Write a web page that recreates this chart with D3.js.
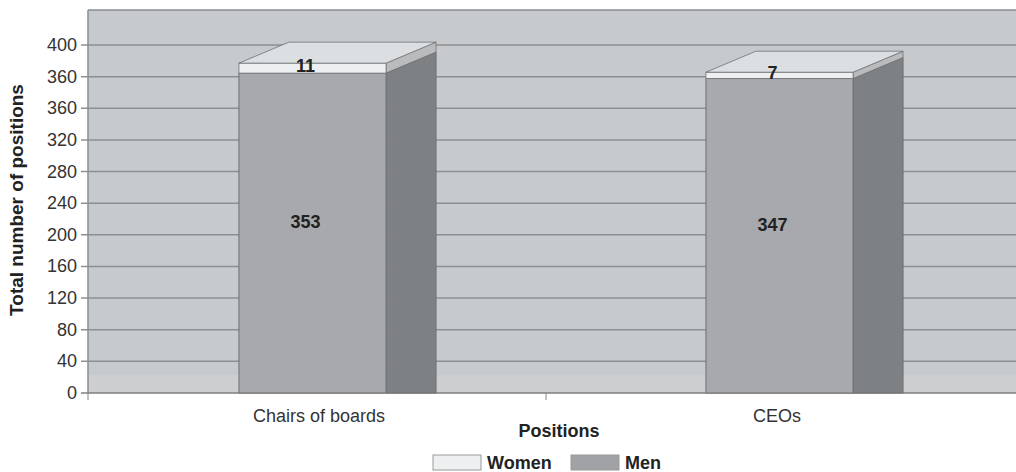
<!DOCTYPE html>
<html>
<head>
<meta charset="utf-8">
<script src="https://cdn.jsdelivr.net/npm/d3@7"></script>
<style>
  html, body { margin: 0; padding: 0; background: #fff; }
  svg { display: block; }
  text { font-family: "Liberation Sans", Arial, sans-serif; }
</style>
</head>
<body>
<svg id="chart" width="1016" height="472"></svg>
<script>
// ---- data ----
const categories = ["Chairs of boards", "CEOs"];
const menValues = [353, 347];
const womenValues = [11, 7];
const tickLabels = ["0", "40", "80", "120", "160", "200", "240", "280", "320", "360", "360", "400"];
const seriesNames = ["Women", "Men"];
const xTitle = "Positions";
const yTitle = "Total number of positions";

// ---- layout ----
const W = 1016, H = 472;
const plotLeft = 88, plotTop = 10, plotRight = 1016, baseY = 393, topTickY = 45;
const depthX = 50, depthY = 21;
const yMax = 384;

const svg = d3.select("#chart");

const y = d3.scaleLinear().domain([0, yMax]).range([baseY, topTickY]);
const tickStep = yMax / (tickLabels.length - 1);

const xAxisScale = d3.scaleBand().domain(categories).range([plotLeft, 1004]).padding(0);
const xBar = d3.scaleBand().domain(categories).range([79, 1013])
  .paddingInner(0.685).paddingOuter(0.3425);

const colors = {
  bg: "#c7cacd",
  floor: "#cdcecf",
  grid: "#8c8f92",
  menFront: "#a7a9ac",
  menSide: "#7e8184",
  womenFront: "#eeeff0",
  womenTop: "#dcdfe1",
  womenSide: "#b9bbbd",
  edge: "#6f7275"
};

// plot background
svg.append("rect")
  .attr("x", plotLeft).attr("y", plotTop)
  .attr("width", plotRight - plotLeft).attr("height", baseY - plotTop)
  .attr("fill", colors.bg);
// floor band
svg.append("rect")
  .attr("x", plotLeft).attr("y", baseY - depthY + 3)
  .attr("width", plotRight - plotLeft).attr("height", depthY - 3)
  .attr("fill", colors.floor);
// plot border top and left
svg.append("line").attr("x1", plotLeft).attr("x2", plotRight)
  .attr("y1", plotTop).attr("y2", plotTop)
  .attr("stroke", "#8a8d90").attr("stroke-width", 1.5);
svg.append("line").attr("x1", plotLeft).attr("x2", plotLeft)
  .attr("y1", plotTop).attr("y2", baseY)
  .attr("stroke", "#8a8d90").attr("stroke-width", 1.5);

// gridlines, ticks, labels
const ticks = svg.append("g");
tickLabels.forEach((lab, i) => {
  const ty = y(i * tickStep);
  ticks.append("line")
    .attr("x1", plotLeft - 7).attr("x2", plotRight)
    .attr("y1", ty).attr("y2", ty)
    .attr("stroke", i === 0 ? "#7d8083" : colors.grid)
    .attr("stroke-width", 1.5);
  ticks.append("text")
    .attr("x", 77).attr("y", ty)
    .attr("text-anchor", "end")
    .attr("dominant-baseline", "central")
    .attr("font-size", 18)
    .attr("fill", "#333")
    .text(lab);
});

// x axis tick marks at band boundaries
const bounds = [xAxisScale.range()[0]].concat(categories.slice(1).map(c => xAxisScale(c)));
bounds.forEach(bx => {
  svg.append("line").attr("x1", bx).attr("x2", bx)
    .attr("y1", baseY).attr("y2", baseY + 7)
    .attr("stroke", "#888").attr("stroke-width", 1);
});

// bars
const bars = svg.append("g");
categories.forEach((cat, i) => {
  const x0 = xBar(cat), x1 = x0 + xBar.bandwidth();
  const yMen = y(menValues[i]);
  const yTot = y(menValues[i] + womenValues[i]);
  const poly = pts => pts.map(p => p.join(",")).join(" ");

  // men side
  bars.append("polygon")
    .attr("points", poly([[x1, yMen], [x1 + depthX, yMen - depthY], [x1 + depthX, baseY], [x1, baseY]]))
    .attr("fill", colors.menSide).attr("stroke", colors.edge).attr("stroke-width", 1);
  // men front
  bars.append("rect")
    .attr("x", x0).attr("y", yMen).attr("width", x1 - x0).attr("height", baseY - yMen)
    .attr("fill", colors.menFront).attr("stroke", colors.edge).attr("stroke-width", 1);
  // women side
  bars.append("polygon")
    .attr("points", poly([[x1, yTot], [x1 + depthX, yTot - depthY], [x1 + depthX, yMen - depthY], [x1, yMen]]))
    .attr("fill", colors.womenSide).attr("stroke", colors.edge).attr("stroke-width", 0.8);
  // women front
  bars.append("rect")
    .attr("x", x0).attr("y", yTot).attr("width", x1 - x0).attr("height", yMen - yTot)
    .attr("fill", colors.womenFront).attr("stroke", colors.edge).attr("stroke-width", 0.8);
  // women top
  bars.append("polygon")
    .attr("points", poly([[x0, yTot], [x0 + depthX, yTot - depthY], [x1 + depthX, yTot - depthY], [x1, yTot]]))
    .attr("fill", colors.womenTop).attr("stroke", colors.edge).attr("stroke-width", 0.8);

  const cx = (x0 + x1) / 2 - 7;
  // women label
  bars.append("text")
    .attr("x", cx).attr("y", (yTot + yMen) / 2 - 2)
    .attr("text-anchor", "middle").attr("dominant-baseline", "central")
    .attr("font-size", 18).attr("font-weight", "bold").attr("fill", "#222")
    .text(womenValues[i]);
  // men label
  bars.append("text")
    .attr("x", cx).attr("y", (yMen + baseY) / 2 - 11)
    .attr("text-anchor", "middle").attr("dominant-baseline", "central")
    .attr("font-size", 18).attr("font-weight", "bold").attr("fill", "#222")
    .text(menValues[i]);
});

// category labels
categories.forEach(cat => {
  svg.append("text")
    .attr("x", xAxisScale(cat) + xAxisScale.bandwidth() / 2 + 2)
    .attr("y", 422)
    .attr("text-anchor", "middle")
    .attr("font-size", 18).attr("fill", "#333")
    .text(cat);
});

// axis titles
svg.append("text")
  .attr("x", 559).attr("y", 437)
  .attr("text-anchor", "middle")
  .attr("font-size", 18).attr("font-weight", "bold").attr("fill", "#222")
  .text(xTitle);
svg.append("text")
  .attr("transform", "translate(23,200) rotate(-90)")
  .attr("text-anchor", "middle")
  .attr("font-size", 19).attr("font-weight", "bold").attr("fill", "#222")
  .text(yTitle);

// legend
const legendFill = { "Women": colors.womenFront, "Men": "#a0a2a5" };
const legendX = [433, 571];
seriesNames.forEach((name, i) => {
  svg.append("rect")
    .attr("x", legendX[i]).attr("y", 455).attr("width", 48).attr("height", 15)
    .attr("fill", legendFill[name]).attr("stroke", "#999").attr("stroke-width", 1);
  svg.append("text")
    .attr("x", legendX[i] + 54).attr("y", 469)
    .attr("font-size", 18).attr("font-weight", "bold").attr("fill", "#222")
    .text(name);
});
</script>
</body>
</html>
